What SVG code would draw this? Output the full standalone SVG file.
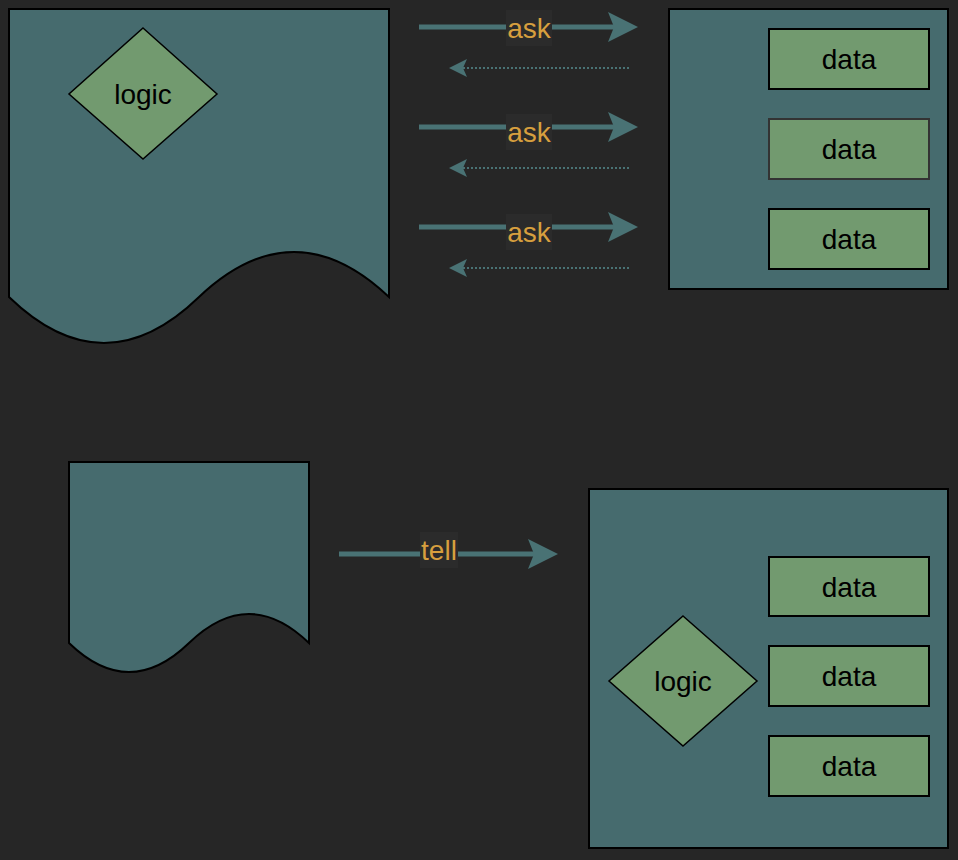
<svg xmlns="http://www.w3.org/2000/svg" width="958" height="860" viewBox="0 0 958 860">
<style>
.shape{fill:#466b6e;stroke:#000;stroke-width:2}
.data{fill:#729a6f;stroke:#000;stroke-width:2}
.dia{fill:#729a6f;stroke:#000;stroke-width:1.5}
.t{font-family:"Liberation Sans",Arial,sans-serif;font-size:28px;fill:#000;text-anchor:middle}
.lbl{font-family:"Liberation Sans",Arial,sans-serif;font-size:28px;fill:#d79f3e;text-anchor:middle}
.lblbg{fill:#2b2b2b}
.main{stroke:#497274;stroke-width:5;fill:none}
.ret{stroke:#497274;stroke-width:2;stroke-dasharray:2 2;fill:none}
.head{fill:#497274}
</style>
<rect width="958" height="860" fill="#262626"/>
<g id="doc1">
<path class="shape" d="M9,9 L389,9 L389,297 Q294,207 199,297 Q104,389 9,297 Z"/>
</g>
<g id="logic1">
<polygon class="dia" points="143,28 217,94 143,159 69,94"/>
<text class="t" x="143" y="104">logic</text>
</g>
<g id="store1">
<rect class="shape" x="669" y="9" width="279" height="280"/>
</g>
<g id="data1"><rect class="data" x="769" y="29" width="160" height="60"/><text class="t" x="849" y="69">data</text></g>
<g id="data2"><rect class="data" x="769" y="119" width="160" height="60" style="stroke:#333"/><text class="t" x="849" y="159">data</text></g>
<g id="data3"><rect class="data" x="769" y="209" width="160" height="60"/><text class="t" x="849" y="249">data</text></g>
<g id="doc2">
<path class="shape" d="M69,462 L309,462 L309,643 Q249,585 189,643 Q129,701 69,643 Z"/>
</g>
<g id="store2">
<rect class="shape" x="589" y="489" width="359" height="359"/>
</g>
<g id="logic2">
<polygon class="dia" points="683,616 757,681 683,746 609,681"/>
<text class="t" x="683" y="691">logic</text>
</g>
<g id="data4"><rect class="data" x="769" y="557" width="160" height="59"/><text class="t" x="849" y="597">data</text></g>
<g id="data5"><rect class="data" x="769" y="646" width="160" height="60"/><text class="t" x="849" y="686">data</text></g>
<g id="data6"><rect class="data" x="769" y="736" width="160" height="60"/><text class="t" x="849" y="776">data</text></g>
<g id="connectors">
<line class="main" x1="419" y1="27" x2="614" y2="27"/>
<path class="head" d="M638,27 L608,12 L614,27 L608,42 Z"/>
<rect class="lblbg" x="506" y="10" width="46" height="36"/>
<text class="lbl" x="529" y="38">ask</text>
<line class="ret" x1="629" y1="68" x2="462" y2="68"/>
<path class="head" d="M449,68 L467,59 L463,68 L467,77 Z"/>

<line class="main" x1="419" y1="127" x2="614" y2="127"/>
<path class="head" d="M638,127 L608,112 L614,127 L608,142 Z"/>
<rect class="lblbg" x="506" y="114" width="46" height="36"/>
<text class="lbl" x="529" y="142">ask</text>
<line class="ret" x1="629" y1="168" x2="462" y2="168"/>
<path class="head" d="M449,168 L467,159 L463,168 L467,177 Z"/>

<line class="main" x1="419" y1="227" x2="614" y2="227"/>
<path class="head" d="M638,227 L608,212 L614,227 L608,242 Z"/>
<rect class="lblbg" x="506" y="214" width="46" height="36"/>
<text class="lbl" x="529" y="242">ask</text>
<line class="ret" x1="629" y1="268" x2="462" y2="268"/>
<path class="head" d="M449,268 L467,259 L463,268 L467,277 Z"/>

<line class="main" x1="339" y1="554" x2="534" y2="554"/>
<path class="head" d="M558,554 L528,539 L534,554 L528,569 Z"/>
<rect class="lblbg" x="420" y="532" width="38" height="36"/>
<text class="lbl" x="439" y="560">tell</text>
</g>
</svg>
